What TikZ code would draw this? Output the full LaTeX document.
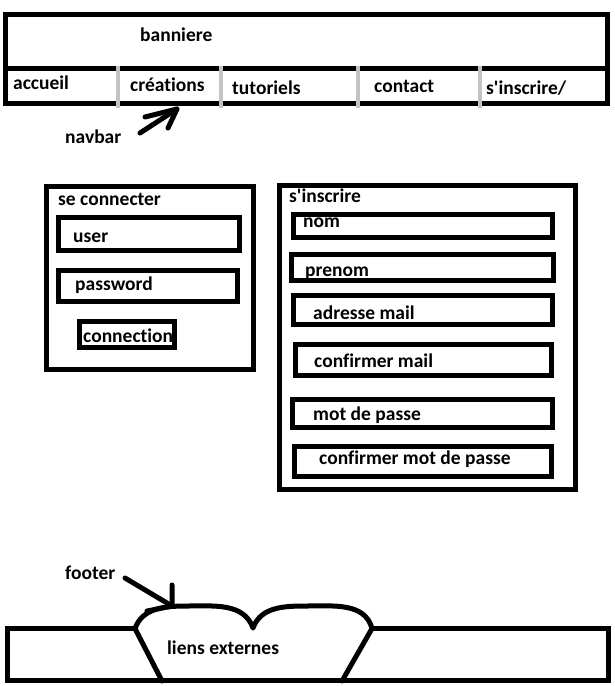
\documentclass[tikz,border=0pt]{standalone}
\usepackage{fontspec}
\setmainfont{Carlito}[Ligatures={NoCommon}]
\definecolor{sepgray}{RGB}{195,195,195}
\newcommand{\apos}{\textquotesingle}
\begin{document}
\begin{tikzpicture}[x=1pt,y=-1pt,
    box/.style={draw,line width=5pt,inner sep=0pt,outer sep=0pt},
    lbl/.style={anchor=base west,inner sep=0pt,font=\fontsize{19.5}{20}\selectfont\bfseries},
    sep/.style={sepgray,line width=4pt},
    pen/.style={line width=5pt,line cap=round,line join=round}]
    \useasboundingbox (0,0) rectangle (614,686);

    % Banner and navbar
    \node[box,minimum width=602,minimum height=89] (banner) at (306.5,59) {};
    \coordinate (navL) at (5.5,68);
    \coordinate (navR) at (607.5,68);
    \draw[pen,line cap=butt] (navL) -- (navR);
    \foreach \x in {118,221,358,480}
        \draw[sep] (\x,66) -- (\x,108);
    \node[lbl] (banniere) at (140,41) {banniere};
    \node[lbl] (accueil) at (13,89) {accueil};
    \node[lbl] (creations) at (130,91) {créations};
    \node[lbl] (tutoriels) at (232,94) {tutoriels};
    \node[lbl] (contact) at (374,92) {contact};
    \node[lbl] (inscrireNav) at (486,94) {s\apos inscrire/};

    % Arrow pointing at the navbar
    \node[lbl] (navbar) at (65,143) {navbar};
    \coordinate (navTail) at (140,133);
    \coordinate (navTip) at (177,109);
    \draw[pen] (navTail) -- (navTip);
    \draw[pen] (145,117) -- (navTip) -- (168,128);

    % Login form
    \node[box,minimum width=207,minimum height=183] (login) at (150,278) {};
    \node[lbl] (loginTitle) at (58,205) {se connecter};
    \node[box,minimum width=181,minimum height=33] (userBox) at (149,234) {};
    \node[lbl] (user) at (73,242) {user};
    \node[box,minimum width=179,minimum height=31] (passBox) at (148,286) {};
    \node[lbl] (password) at (75,290) {password};
    \node[box,minimum width=95,minimum height=26] (connBox) at (127,334.5) {};
    \node[lbl] (connection) at (83,342) {connection};

    % Sign-up form
    \node[box,minimum width=296,minimum height=304] (signup) at (427.5,337.5) {};
    \node[lbl] (signupTitle) at (289,202) {s\apos inscrire};
    \node[box,minimum width=259,minimum height=23] (nomBox) at (423,226) {};
    \node[lbl] (nom) at (303,227) {nom};
    \node[box,minimum width=262,minimum height=26] (prenomBox) at (422.5,267.5) {};
    \node[lbl] (prenom) at (305,276) {prenom};
    \node[box,minimum width=259,minimum height=29] (mailBox) at (423,310) {};
    \node[lbl] (mail) at (313,319) {adresse mail};
    \node[box,minimum width=256,minimum height=31] (confMailBox) at (423.5,360) {};
    \node[lbl] (confMail) at (314,367) {confirmer mail};
    \node[box,minimum width=260,minimum height=28] (mdpBox) at (422.5,413.5) {};
    \node[lbl] (mdp) at (313,420) {mot de passe};
    \node[box,minimum width=257,minimum height=30] (confMdpBox) at (423,461.5) {};
    \node[lbl] (confMdp) at (319,464) {confirmer mot de passe};

    % Footer with the bulge of external links
    \coordinate (bulgeL) at (135,628.5);
    \coordinate (bulgeR) at (372,628.5);
    \draw[pen,line join=miter,line cap=butt] (bulgeL) -- (7.5,628.5) -- (7.5,680.5)
        -- (608.5,680.5) -- (608.5,628.5) -- (bulgeR);
    \draw[pen] (162,681) -- (bulgeL) to[out=70,in=180] (188,606)
        to[out=0,in=110] (253,628) to[out=70,in=180] (307,606)
        to[out=0,in=105] (bulgeR) -- (342,681);
    \node[lbl] (liens) at (167,654) {liens externes};

    % Arrow pointing at the footer
    \node[lbl] (footer) at (65,579) {footer};
    \coordinate (footTail) at (125,578);
    \coordinate (footTip) at (172,606);
    \draw[pen] (footTail) -- (footTip);
    \draw[pen] (172,585) -- (footTip) -- (147,611);
\end{tikzpicture}
\end{document}
